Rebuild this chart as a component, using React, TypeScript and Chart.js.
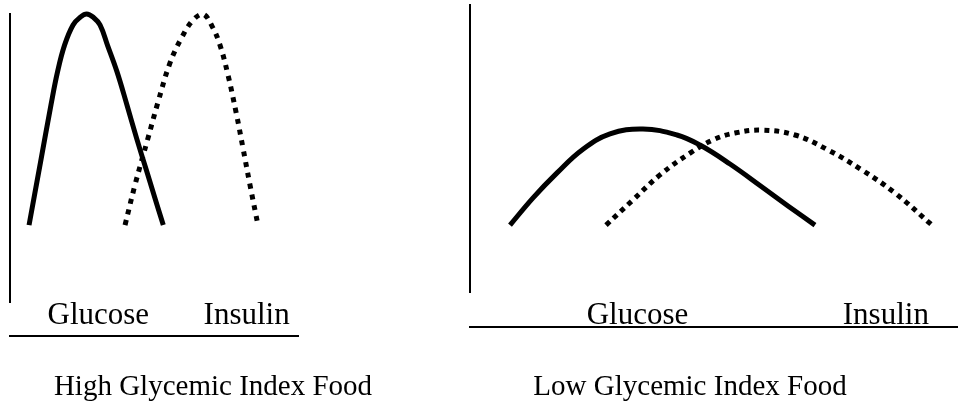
import React, { useEffect, useRef } from 'react';
import { Chart, registerables } from 'chart.js';

Chart.register(...registerables);

// ---------- data ----------
const tickLabels = ['Glucose', 'Insulin'];

// High glycemic index food panel (x: time units 0..180, y: level 0..100)
const highTickPositions = [55.2, 147.9];
const highGlucoseX = [11.9, 19.1, 25.6, 29.7, 34.1, 39.4, 43.75, 47.9, 52.2, 56.25, 60.9, 66.9, 73.1, 79.1, 85.6, 91.9, 95.8];
const highGlucoseY = [26.7, 48.6, 68.4, 79.9, 89.2, 96.2, 98.8, 100, 98.8, 96.2, 89.2, 79.9, 68.4, 56.9, 45.1, 33.7, 26.7];
const highInsulinX = [71.9, 78.1, 86.25, 92.5, 100, 107.5, 114.4, 120.6, 126.25, 131.25, 136.25, 141.25, 145.6, 150, 155];
const highInsulinY = [26.7, 40.6, 56.9, 69.4, 83, 92, 97.9, 100, 95.8, 89.2, 78.8, 66, 53.5, 40.6, 26.7];
const highCaption = 'High Glycemic Index Food';

// Low glycemic index food panel (x: time units 0..305, y: level 0..100)
const lowTickPositions = [104.7, 259.9];
const lowGlucoseX = [25, 39.4, 54.4, 70, 87.5, 108.1, 129.4, 143.75, 162.5, 182.5, 198.75, 215.6];
const lowGlucoseY = [23.3, 32.8, 41.5, 49.5, 55.1, 56.8, 54.7, 51.2, 44.6, 36.6, 30, 23.3];
const lowInsulinX = [85, 101.9, 118.75, 137.5, 151.9, 165.6, 182.5, 203.1, 223.75, 245, 265.6, 288.75];
const lowInsulinY = [23.3, 32.1, 40.8, 48.4, 53, 55.4, 56.4, 54.7, 49.5, 42.5, 34.5, 23.3];
const lowCaption = 'Low Glycemic Index Food';

const FONT = "'Liberation Serif', 'Times New Roman', Times, serif";

type PanelProps = {
  left: number;
  width: number;
  xMax: number;
  tickPos: number[];
  gx: number[];
  gy: number[];
  ix: number[];
  iy: number[];
  caption: string;
  dash: number[];
  topPad: number;
  yAxisWidth: number;
  padRight: number;
  tickPadding: number;
  xAxisHeight: number;
  titlePadTop: number;
};

const pts = (xs: number[], ys: number[]) => xs.map((x, i) => ({ x, y: ys[i] }));

function Panel(p: PanelProps) {
  const ref = useRef<HTMLCanvasElement | null>(null);
  useEffect(() => {
    if (!ref.current) return;
    const scales: any = {
      x: {
        type: 'linear',
        position: 'bottom',
        min: 0,
        max: p.xMax,
        weight: 0,
        grid: { display: false },
        border: { display: false },
        afterBuildTicks: (s: any) => {
          s.ticks = p.tickPos.map((v) => ({ value: v }));
        },
        afterFit: (s: any) => {
          s.height = p.xAxisHeight;
        },
        ticks: {
          color: '#000',
          font: { family: FONT, size: 31, lineHeight: 1 },
          padding: p.tickPadding,
          autoSkip: false,
          maxRotation: 0,
          minRotation: 0,
          callback: (_v: any, i: number) => tickLabels[i],
        },
      },
      x2: {
        type: 'linear',
        position: 'bottom',
        min: 0,
        max: p.xMax,
        weight: 1,
        grid: { display: false },
        ticks: { display: false },
        border: { display: true, color: '#000', width: 2 },
        afterFit: (s: any) => {
          s.height = 0;
        },
      },
      y: {
        type: 'linear',
        position: 'left',
        min: 0,
        max: 100,
        grid: { display: false },
        ticks: { display: false },
        border: { display: true, color: '#000', width: 2 },
        afterFit: (s: any) => {
          s.width = p.yAxisWidth;
        },
      },
    };
    if (p.padRight > 0) {
      scales.yPad = {
        type: 'linear',
        position: 'right',
        display: true,
        grid: { display: false },
        ticks: { display: false },
        border: { display: false },
        afterFit: (s: any) => {
          s.width = p.padRight;
        },
      };
    }
    const chart = new Chart(ref.current, {
      type: 'line',
      data: {
        datasets: [
          {
            label: 'Glucose',
            data: pts(p.gx, p.gy),
            borderColor: '#000',
            backgroundColor: '#000',
            borderWidth: 5,
            pointRadius: 0,
            tension: 0.4,
            fill: false,
            clip: false as any,
          },
          {
            label: 'Insulin',
            data: pts(p.ix, p.iy),
            borderColor: '#000',
            backgroundColor: '#000',
            borderWidth: 5,
            borderDash: p.dash,
            pointRadius: 0,
            tension: 0.4,
            fill: false,
            clip: false as any,
          },
        ],
      },
      options: {
        responsive: false,
        animation: false,
        events: [],
        layout: { padding: { left: 0, right: 0, top: p.topPad, bottom: 0 } },
        plugins: {
          legend: { display: false },
          tooltip: { enabled: false },
          title: {
            display: true,
            text: p.caption,
            position: 'bottom',
            color: '#000',
            font: { family: FONT, size: 29, weight: 'normal', lineHeight: 1 },
            padding: { top: p.titlePadTop, bottom: 0 },
          },
        },
        scales,
      } as any,
    });
    return () => chart.destroy();
  }, []);
  return (
    <canvas
      ref={ref}
      width={p.width}
      height={402}
      style={{ position: 'absolute', left: p.left, top: 0, width: p.width, height: 402 }}
    />
  );
}

export default function App() {
  return (
    <div style={{ position: 'absolute', left: 0, top: 0, width: 958, height: 402, background: '#fff' }}>
      <Panel
        left={0}
        width={426}
        xMax={180}
        tickPos={highTickPositions}
        gx={highGlucoseX}
        gy={highGlucoseY}
        ix={highInsulinX}
        iy={highInsulinY}
        caption={highCaption}
        dash={[5, 6]}
        topPad={14}
        yAxisWidth={10}
        padRight={128}
        tickPadding={-10}
        xAxisHeight={34}
        titlePadTop={37}
      />
      <Panel
        left={422}
        width={536}
        xMax={305}
        tickPos={lowTickPositions}
        gx={lowGlucoseX}
        gy={lowGlucoseY}
        ix={lowInsulinX}
        iy={lowInsulinY}
        caption={lowCaption}
        dash={[5, 5]}
        topPad={5}
        yAxisWidth={48}
        padRight={0}
        tickPadding={0}
        xAxisHeight={35}
        titlePadTop={46}
      />
    </div>
  );
}
